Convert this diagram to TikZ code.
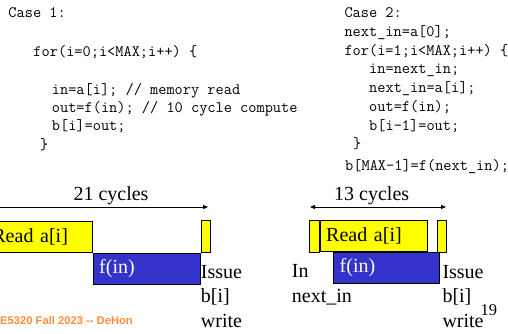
\documentclass[tikz,border=0pt]{standalone}
\usepackage{fontspec}
\setmainfont{Liberation Serif}
\newfontfamily\footfont{Liberation Sans}
\usetikzlibrary{arrows.meta,positioning}
\definecolor{slideyellow}{RGB}{255,255,0}
\definecolor{slideblue}{RGB}{51,51,204}
\definecolor{footorange}{RGB}{255,140,60}

\begin{document}
\begin{tikzpicture}[
            x=1bp, y=-1bp,
            >={Triangle[length=5bp,width=4bp]},
            code/.style={
                anchor=base west, inner sep=0pt,
                font=\fontsize{15.9bp}{18.6bp}\selectfont\ttfamily
            },
            serif/.style={
                anchor=base west, inner sep=0pt, align=left,
                font=\fontsize{20bp}{24.5bp}\selectfont
            },
            readbox/.style={
                draw, line width=0.8bp, fill=slideyellow, anchor=north west,
                inner xsep=6bp, align=left, minimum height=31bp,
                font=\fontsize{20bp}{24bp}\selectfont
            },
            funbox/.style={
                draw, line width=0.8bp, fill=slideblue, text=white, anchor=north west,
                inner xsep=6bp, align=left, minimum height=31bp,
                font=\fontsize{20bp}{24bp}\selectfont
            },
            slotbox/.style={
                draw, line width=0.8bp, fill=slideyellow, inner sep=0pt,
                minimum width=9.3bp, minimum height=32bp
            }
        ]
        \useasboundingbox (0,0) rectangle (508,333);
        \clip (0,0) rectangle (508,333);

        % case 1 code
        \node[code] (c1head) at (8.3,17.5) {Case 1:};
        \node[code] (c1for) at (33.3,56) {for(i=0;i<MAX;i++) \{};
        \node[code] (c1read) at (51.7,94) {in=a[i]; // memory read};
        \node[code] (c1comp) at (51.7,112) {out=f(in); // 10 cycle compute};
        \node[code] (c1store) at (51.7,130) {b[i]=out;};
        \node[code] (c1end) at (40,149) {\}};

        % case 2 code
        \node[code] (c2head) at (344.3,17.5) {Case 2:};
        \node[code] (c2pre) at (344.3,36) {next\_in=a[0];};
        \node[code] (c2for) at (344.3,55) {for(i=1;i<MAX;i++) \{};
        \node[code] (c2in) at (369,73.5) {in=next\_in;};
        \node[code] (c2read) at (369,92) {next\_in=a[i];};
        \node[code] (c2comp) at (369,111.5) {out=f(in);};
        \node[code] (c2store) at (369,130) {b[i-1]=out;};
        \node[code] (c2end) at (353,148.5) {\}};
        \node[code] (c2post) at (345,170) {b[MAX-1]=f(next\_in);};

        % case 1 timeline
        \node[readbox, minimum width=106bp, text width=94bp] (read1) at (-14,221) {Read a[i]};
        \node[funbox, minimum width=107bp, text width=95bp] (fun1) at (read1.south east) {f(in)};
        \node[slotbox, anchor=south west] (issue1) at (fun1.north east) {};
        \coordinate (span1s) at (-5,207);
        \coordinate (span1e) at (208,207);
        \draw[->, line width=0.8bp] (span1s) -- (span1e);
        \node[serif, anchor=base] (cyc1) at (111,200) {21 cycles};
        % multi-line labels sit on their last line
        \node[serif] (issue1txt) at (200.7,327) {Issue\\b[i]\\write};

        % case 2 timeline
        \node[slotbox, anchor=north west, minimum width=9.7bp] (inslot2) at (309.3,220) {};
        \node[readbox, minimum width=106.7bp, text width=94.7bp] (read2) at (inslot2.north east) {Read a[i]};
        \node[funbox, minimum width=105.7bp, text width=93.7bp] (fun2) at (333.3,251.7) {f(in)};
        \node[slotbox, anchor=north west] (issue2) at (436.7,220) {};
        \coordinate (span2s) at (310,207);
        \coordinate (span2e) at (446,207);
        \draw[<->, line width=0.8bp] (span2s) -- (span2e);
        \node[serif, anchor=base] (cyc2) at (371.7,200) {13 cycles};
        \node[serif] (in2txt) at (291.7,302) {In\\next\_in};
        \node[serif] (issue2txt) at (442.3,327) {Issue\\b[i]\\write};

        % footer
        \node[anchor=base west, inner sep=0pt, text=footorange,
              font=\footfont\bfseries\fontsize{11.2bp}{13bp}\selectfont] (foot) at (0,324)
              {E5320 Fall 2023 \mbox{-}\mbox{-} DeHon};
        \node[serif, font=\fontsize{16.5bp}{18bp}\selectfont] (pagenum) at (480.5,315) {19};
        \end{tikzpicture}
\end{document}
